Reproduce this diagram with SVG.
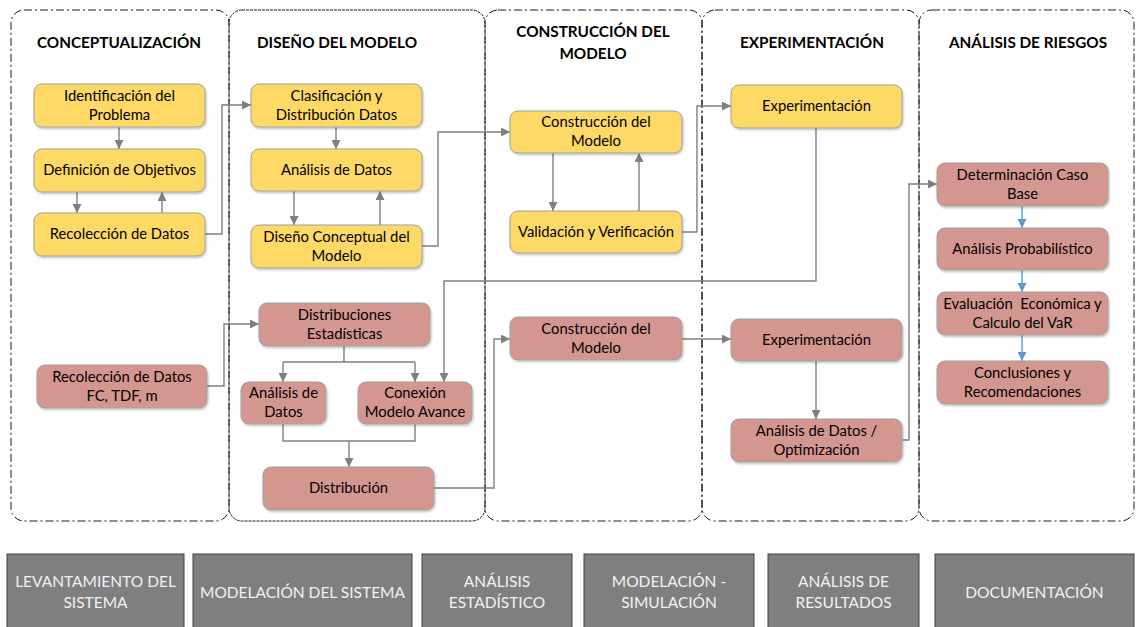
<svg xmlns="http://www.w3.org/2000/svg" width="1136" height="627" viewBox="0 0 1136 627">
  <defs>
    <style>
      .panel { fill: none; stroke: #1a1a1a; stroke-width: 1; stroke-dasharray: 8 3 2 3; }
      .panel.dense { stroke-dasharray: 3 1; }
      .title { font-family: Lato, "Liberation Sans", sans-serif; font-weight: bold; font-size: 15.3px; fill: #000; text-anchor: middle; }
      .yel { fill: #FFD966; stroke: #A0A0A0; stroke-width: 1; filter: url(#shadow); }
      .pink { fill: #D4978F; stroke: #A0A0A0; stroke-width: 1; filter: url(#shadow); }
      .lbl { font-family: Lato, "Liberation Sans", sans-serif; font-size: 14.8px; fill: #000; text-anchor: middle; white-space: pre; }
      .conn { fill: none; stroke: #7F7F7F; stroke-width: 1.4; }
      .conn.arr { marker-end: url(#ah); }
      .blue { fill: none; stroke: #5B9BD5; stroke-width: 1.4; marker-end: url(#ahb); }
      .bar { fill: #7F7F7F; stroke: #404040; stroke-width: 1; }
      .barlbl { font-family: Lato, "Liberation Sans", sans-serif; font-size: 15.5px; fill: #F2F2F2; text-anchor: middle; }
    </style>
    <filter id="shadow" x="-10%" y="-20%" width="130%" height="150%">
      <feDropShadow dx="1" dy="1.5" stdDeviation="1" flood-color="#000" flood-opacity="0.25"/>
    </filter>
    <marker id="ah" viewBox="0 0 10 10" refX="10" refY="5" markerWidth="9" markerHeight="9" markerUnits="userSpaceOnUse" orient="auto">
      <path d="M0,0 L10,5 L0,10 Z" fill="#7F7F7F"/>
    </marker>
    <marker id="ahb" viewBox="0 0 10 10" refX="10" refY="5" markerWidth="9" markerHeight="9" markerUnits="userSpaceOnUse" orient="auto">
      <path d="M0,0 L10,5 L0,10 Z" fill="#5B9BD5"/>
    </marker>
  </defs>

  <rect width="1136" height="627" fill="#fff"/>

  <!-- phase panels -->
  <g id="panels">
    <rect class="panel" x="11" y="10" width="218" height="511" rx="13"/>
    <rect class="panel dense" x="229" y="10" width="256" height="511" rx="13"/>
    <rect class="panel" x="485" y="10" width="217" height="511" rx="13"/>
    <rect class="panel" x="702" y="10" width="217" height="511" rx="13"/>
    <rect class="panel" x="919" y="10" width="215" height="511" rx="13"/>
  </g>

  <g id="titles">
    <text class="title" x="119" y="48">CONCEPTUALIZACIÓN</text>
    <text class="title" x="337" y="48">DISEÑO DEL MODELO</text>
    <text class="title" x="593" y="37">CONSTRUCCIÓN DEL</text>
    <text class="title" x="593" y="59">MODELO</text>
    <text class="title" x="812" y="48">EXPERIMENTACIÓN</text>
    <text class="title" x="1028" y="48">ANÁLISIS DE RIESGOS</text>
  </g>

  <!-- connectors -->
  <g id="connectors">
    <path class="conn arr" d="M119,127 V149"/>
    <path class="conn arr" d="M77,192 V213"/>
    <path class="conn arr" d="M162,213 V192"/>
    <path class="conn arr" d="M205,234 H222 V105 H251"/>
    <path class="conn arr" d="M336,127 V149"/>
    <path class="conn arr" d="M294,191 V225"/>
    <path class="conn arr" d="M380,225 V191"/>
    <path class="conn arr" d="M422,246 H438 V132 H510"/>
    <path class="conn arr" d="M553,153 V211"/>
    <path class="conn arr" d="M639,211 V153"/>
    <path class="conn arr" d="M682,232 H697 V106 H731"/>
    <path class="conn arr" d="M816,128 V281 H444 V382"/>
    <path class="conn arr" d="M207,386 H224 V324 H259"/>
    <path class="conn" d="M344,346 V362 M283,362 H415"/>
    <path class="conn arr" d="M283,362 V382"/>
    <path class="conn arr" d="M415,362 V382"/>
    <path class="conn" d="M283,424 V441 H415 V424"/>
    <path class="conn arr" d="M349,441 V467"/>
    <path class="conn arr" d="M434,488 H494 V339 H510"/>
    <path class="conn arr" d="M682,339 H731"/>
    <path class="conn arr" d="M816,361 V419"/>
    <path class="conn arr" d="M902,440 H909 V184 H937"/>
    <path class="blue" d="M1022,206 V228"/>
    <path class="blue" d="M1022,270 V292"/>
    <path class="blue" d="M1022,335 V361"/>
  </g>

  <!-- conceptualization -->
  <g id="n-identificacion">
    <rect class="yel" x="34" y="84" width="171" height="43" rx="8"/>
    <text class="lbl" x="119.5" y="101">Identificación del</text>
    <text class="lbl" x="119.5" y="120">Problema</text>
  </g>
  <g id="n-objetivos">
    <rect class="yel" x="34" y="149" width="171" height="43" rx="8"/>
    <text class="lbl" x="119.5" y="175">Definición de Objetivos</text>
  </g>
  <g id="n-recoleccion">
    <rect class="yel" x="34" y="213" width="171" height="43" rx="8"/>
    <text class="lbl" x="119.5" y="239">Recolección de Datos</text>
  </g>
  <g id="n-recoleccion-fc">
    <rect class="pink" x="37" y="365" width="170" height="43" rx="8"/>
    <text class="lbl" x="122" y="382">Recolección de Datos</text>
    <text class="lbl" x="122" y="401">FC, TDF, m</text>
  </g>

  <!-- model design -->
  <g id="n-clasificacion">
    <rect class="yel" x="251" y="84" width="171" height="43" rx="8"/>
    <text class="lbl" x="336.5" y="101">Clasificación y</text>
    <text class="lbl" x="336.5" y="120">Distribución Datos</text>
  </g>
  <g id="n-analisis">
    <rect class="yel" x="251" y="149" width="171" height="42" rx="8"/>
    <text class="lbl" x="336.5" y="175">Análisis de Datos</text>
  </g>
  <g id="n-diseno">
    <rect class="yel" x="251" y="225" width="171" height="43" rx="8"/>
    <text class="lbl" x="336.5" y="242">Diseño Conceptual del</text>
    <text class="lbl" x="336.5" y="261">Modelo</text>
  </g>
  <g id="n-distribuciones">
    <rect class="pink" x="259" y="303" width="171" height="43" rx="8"/>
    <text class="lbl" x="344.5" y="320">Distribuciones</text>
    <text class="lbl" x="344.5" y="339">Estadísticas</text>
  </g>
  <g id="n-analisis-datos">
    <rect class="pink" x="241" y="382" width="85" height="42" rx="8"/>
    <text class="lbl" x="283.5" y="398">Análisis de</text>
    <text class="lbl" x="283.5" y="417">Datos</text>
  </g>
  <g id="n-conexion">
    <rect class="pink" x="358" y="382" width="114" height="42" rx="8"/>
    <text class="lbl" x="415" y="398">Conexión</text>
    <text class="lbl" x="415" y="417">Modelo Avance</text>
  </g>
  <g id="n-distribucion">
    <rect class="pink" x="263" y="467" width="171" height="43" rx="8"/>
    <text class="lbl" x="348.5" y="493">Distribución</text>
  </g>

  <!-- model construction -->
  <g id="n-construccion">
    <rect class="yel" x="510" y="111" width="172" height="42" rx="8"/>
    <text class="lbl" x="596" y="127">Construcción del</text>
    <text class="lbl" x="596" y="146">Modelo</text>
  </g>
  <g id="n-validacion">
    <rect class="yel" x="510" y="211" width="172" height="42" rx="8"/>
    <text class="lbl" x="596" y="237">Validación y Verificación</text>
  </g>
  <g id="n-construccion-2">
    <rect class="pink" x="510" y="317" width="172" height="43" rx="8"/>
    <text class="lbl" x="596" y="334">Construcción del</text>
    <text class="lbl" x="596" y="353">Modelo</text>
  </g>

  <!-- experimentation -->
  <g id="n-experimentacion">
    <rect class="yel" x="731" y="85" width="171" height="43" rx="8"/>
    <text class="lbl" x="816.5" y="111">Experimentación</text>
  </g>
  <g id="n-experimentacion-2">
    <rect class="pink" x="731" y="319" width="171" height="42" rx="8"/>
    <text class="lbl" x="816.5" y="345">Experimentación</text>
  </g>
  <g id="n-optimizacion">
    <rect class="pink" x="731" y="419" width="171" height="43" rx="8"/>
    <text class="lbl" x="816.5" y="436">Análisis de Datos /</text>
    <text class="lbl" x="816.5" y="455">Optimización</text>
  </g>

  <!-- risk analysis -->
  <g id="n-caso-base">
    <rect class="pink" x="937" y="163" width="171" height="43" rx="8"/>
    <text class="lbl" x="1022.5" y="180">Determinación Caso</text>
    <text class="lbl" x="1022.5" y="199">Base</text>
  </g>
  <g id="n-probabilistico">
    <rect class="pink" x="937" y="228" width="171" height="42" rx="8"/>
    <text class="lbl" x="1022.5" y="254">Análisis Probabilístico</text>
  </g>
  <g id="n-evaluacion">
    <rect class="pink" x="937" y="292" width="171" height="43" rx="8"/>
    <text class="lbl" x="1022.5" y="309">Evaluación  Económica y</text>
    <text class="lbl" x="1022.5" y="328">Calculo del VaR</text>
  </g>
  <g id="n-conclusiones">
    <rect class="pink" x="937" y="361" width="171" height="43" rx="8"/>
    <text class="lbl" x="1022.5" y="378">Conclusiones y</text>
    <text class="lbl" x="1022.5" y="397">Recomendaciones</text>
  </g>

  <!-- stage bar -->
  <g id="stages">
    <g id="s-levantamiento">
      <rect class="bar" x="7" y="554" width="177" height="80"/>
      <text class="barlbl" x="95.5" y="587">LEVANTAMIENTO DEL</text>
      <text class="barlbl" x="95.5" y="608">SISTEMA</text>
    </g>
    <g id="s-modelacion">
      <rect class="bar" x="193" y="554" width="219" height="80"/>
      <text class="barlbl" x="302.5" y="598">MODELACIÓN DEL SISTEMA</text>
    </g>
    <g id="s-estadistico">
      <rect class="bar" x="422" y="554" width="150" height="80"/>
      <text class="barlbl" x="497" y="587">ANÁLISIS</text>
      <text class="barlbl" x="497" y="608">ESTADÍSTICO</text>
    </g>
    <g id="s-simulacion">
      <rect class="bar" x="584" y="554" width="170" height="80"/>
      <text class="barlbl" x="669" y="587">MODELACIÓN -</text>
      <text class="barlbl" x="669" y="608">SIMULACIÓN</text>
    </g>
    <g id="s-resultados">
      <rect class="bar" x="768" y="554" width="151" height="80"/>
      <text class="barlbl" x="843.5" y="587">ANÁLISIS DE</text>
      <text class="barlbl" x="843.5" y="608">RESULTADOS</text>
    </g>
    <g id="s-documentacion">
      <rect class="bar" x="935" y="554" width="199" height="80"/>
      <text class="barlbl" x="1034.5" y="598">DOCUMENTACIÓN</text>
    </g>
  </g>
</svg>
